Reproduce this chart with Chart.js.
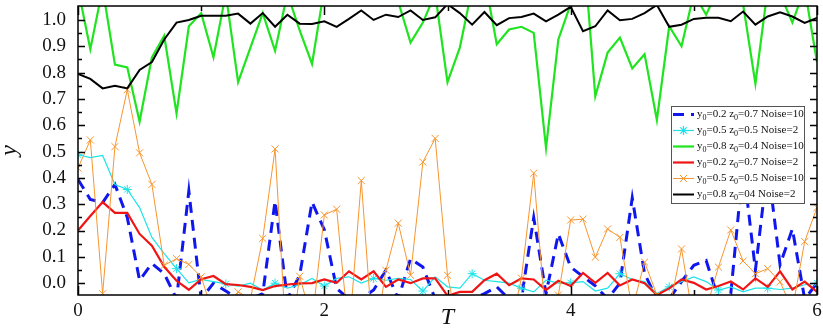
<!DOCTYPE html>
<html lang="en">
<head>
  <meta charset="UTF-8">
  <title>y vs T</title>
  <script src="https://cdn.jsdelivr.net/npm/chart.js"></script>
  <style>
    body { margin: 0; background: #fff; }
    #wrap { width: 823px; height: 330px; }
  </style>
</head>
<body>
<div id="wrap"><canvas id="chart" width="823" height="330"></canvas></div>
<script>
  // time axis
  const tValues = [0.0, 0.1, 0.2, 0.3, 0.4, 0.5, 0.6, 0.7, 0.8, 0.9,
    1.0, 1.1, 1.2, 1.3, 1.4, 1.5, 1.6, 1.7, 1.8, 1.9,
    2.0, 2.1, 2.2, 2.3, 2.4, 2.5, 2.6, 2.7, 2.8, 2.9,
    3.0, 3.1, 3.2, 3.3, 3.4, 3.5, 3.6, 3.7, 3.8, 3.9,
    4.0, 4.1, 4.2, 4.3, 4.4, 4.5, 4.6, 4.7, 4.8, 4.9,
    5.0, 5.1, 5.2, 5.3, 5.4, 5.5, 5.6, 5.7, 5.8, 5.9, 6.0];

  // series
  const blueN10 = [0.394, 0.318, 0.306, 0.375, 0.25, 0.011, 0.075, 0.036, -0.06, 0.35,
    -0.06, 0.0, -0.03, -0.06, -0.06, -0.04, 0.312, -0.06, 0.03, 0.308,
    0.203, -0.02, -0.06, -0.06, -0.026, 0.049, -0.06, 0.093, 0.061, -0.06,
    -0.06, -0.06, -0.06, -0.04, -0.014, -0.06, -0.06, 0.249, -0.04, 0.187,
    0.061, 0.025, -0.01, -0.06, 0.0, 0.324, 0.036, -0.06, -0.06, 0.006,
    0.068, 0.086, -0.06, -0.04, 0.45, 0.05, 0.45, 0.07, 0.206, -0.06, 0.0];
  const cyanN2 = [0.488, 0.477, 0.485, 0.375, 0.356, 0.287, 0.174, 0.112, 0.055, 0.001,
    0.014, 0.006, -0.003, -0.011, 0.0, -0.026, 0.0, -0.019, -0.006, 0.018,
    -0.011, 0.018, 0.024, 0.0, 0.018, 0.011, 0.018, 0.014, -0.03, 0.024,
    -0.014, -0.019, 0.036, 0.011, 0.006, 0.0, -0.019, -0.033, 0.011, 0.0,
    0.001, 0.006, -0.03, -0.019, 0.036, 0.014, 0.006, -0.039, -0.014, 0.006,
    0.024, 0.006, -0.026, -0.014, -0.033, -0.019, -0.019, -0.024, -0.019, -0.006, 0.0];
  const greenN10 = [1.12, 0.889, 1.12, 0.83, 0.82, 0.614, 0.858, 0.94, 0.645, 0.976,
    1.026, 0.858, 1.1, 0.764, 0.895, 1.026, 0.883, 1.1, 0.96, 0.833,
    1.12, 1.1, 1.12, 1.1, 1.12, 1.1, 1.07, 0.914, 0.99, 1.1,
    0.764, 0.895, 1.12, 1.16, 0.908, 0.964, 0.974, 0.951, 0.514, 0.926,
    1.06, 1.3, 0.71, 0.876, 0.933, 0.816, 0.87, 0.62, 0.976, 0.9,
    1.1, 1.02, 1.12, 1.1, 1.06, 0.758, 1.12, 1.1, 0.99, 1.12, 0.84];
  const redN2 = [0.2, 0.255, 0.308, 0.267, 0.267, 0.187, 0.142, 0.062, 0.009, -0.025,
    0.015, 0.027, -0.004, -0.007, -0.014, -0.026, -0.011, -0.005, -0.001, 0.0,
    0.014, 0.001, 0.045, 0.014, 0.045, -0.014, 0.014, 0.0, 0.018, 0.018,
    -0.048, -0.033, -0.033, 0.011, 0.036, -0.008, 0.018, 0.014, -0.026, 0.009,
    -0.011, 0.039, 0.001, 0.039, -0.009, 0.014, 0.0, -0.045, -0.02, 0.014,
    0.001, -0.024, -0.011, 0.006, -0.024, 0.018, -0.014, 0.045, -0.024, 0.006, -0.033];
  const orangeN10 = [0.437, 0.544, -0.04, 0.519, 0.735, 0.495, 0.375, 0.068, 0.093, 0.071,
    0.024, -0.12, -0.15, -0.033, -0.06, 0.17, 0.51, -0.3, 0.026, -0.145,
    0.259, 0.281, -0.2, 0.39, -0.25, 0.049, 0.228, 0.03, 0.46, 0.55,
    0.03, -0.2, -0.1, -0.15, -0.1, -0.2, 0.019, 0.418, -0.15, -0.045,
    0.24, 0.243, 0.099, 0.206, 0.174, -0.1, 0.08, -0.045, -0.1, 0.13,
    -0.15, -0.1, 0.061, 0.202, 0.084, 0.036, 0.055, 0.005, -0.1, 0.158, 0.287];
  const blackN2 = [0.795, 0.776, 0.74, 0.75, 0.74, 0.81, 0.84, 0.926, 0.99, 1.0,
    1.016, 1.016, 1.016, 1.024, 0.986, 1.026, 0.974, 1.02, 0.986, 0.985,
    0.995, 0.974, 1.004, 1.036, 1.0, 1.02, 1.011, 1.036, 1.0, 1.01,
    1.06, 1.026, 0.982, 1.03, 0.98, 1.007, 1.011, 1.024, 0.995, 1.02,
    1.05, 0.957, 0.976, 1.036, 0.999, 1.004, 1.026, 1.057, 0.974, 0.982,
    1.004, 1.008, 1.008, 0.995, 1.032, 0.982, 1.013, 1.029, 1.013, 0.989, 1.008];

  const seriesLabels = [
    'y₀=0.2 z₀=0.7 Noise=10',
    'y₀=0.5 z₀=0.5 Noise=2',
    'y₀=0.8 z₀=0.4 Noise=10',
    'y₀=0.2 z₀=0.7 Noise=2',
    'y₀=0.5 z₀=0.5 Noise=10',
    'y₀=0.8 z₀=04 Noise=2'
  ];

  const xTicks = [0, 2, 4, 6];

  function pts(arr) {
    return arr.map((v, i) => ({ x: tValues[i], y: v }));
  }

  const SERIF = "'Liberation Serif', 'Times New Roman', serif";

  // frame + inward ticks on all four sides
  const framePlugin = {
    id: 'frame',
    afterDatasetsDraw(chart) {
      const { ctx, chartArea: a, scales: { x, y } } = chart;
      ctx.save();
      ctx.strokeStyle = '#000';
      ctx.lineWidth = 1.5;
      ctx.strokeRect(a.left, a.top, a.right - a.left, a.bottom - a.top);
      ctx.beginPath();
      for (let v = x.min; v <= x.max; v += 1) {
        const px = Math.round(x.getPixelForValue(v)) + 0.5;
        const len = xTicks.includes(v) ? 9 : 5;
        ctx.moveTo(px, a.bottom); ctx.lineTo(px, a.bottom - len);
        ctx.moveTo(px, a.top); ctx.lineTo(px, a.top + len);
      }
      for (let k = 0; k <= 20; k++) {
        const py = Math.round(y.getPixelForValue(k * 0.05)) + 0.5;
        const len = k % 2 === 0 ? 7 : 4;
        ctx.moveTo(a.left, py); ctx.lineTo(a.left + len, py);
        ctx.moveTo(a.right, py); ctx.lineTo(a.right - len, py);
      }
      ctx.stroke();
      ctx.restore();
    }
  };

  // boxed legend inside the plot, with subscript zeros
  const legendPlugin = {
    id: 'boxLegend',
    afterDraw(chart) {
      const { ctx, chartArea: a } = chart;
      const boxW = 133, boxH = 97, rowH = 16;
      const bx = a.right - 13 - boxW, by = 106;
      ctx.save();
      ctx.fillStyle = '#fff';
      ctx.fillRect(bx, by, boxW, boxH);
      ctx.strokeStyle = '#555';
      ctx.lineWidth = 1;
      ctx.strokeRect(bx + 0.5, by + 0.5, boxW, boxH);

      chart.data.datasets.forEach((ds, i) => {
        const cy = by + 8.5 + i * rowH;
        const x0 = bx + 2, x1 = bx + 23;
        ctx.strokeStyle = ds.borderColor;
        ctx.lineWidth = ds.borderWidth;
        ctx.setLineDash(ds.borderDash || []);
        ctx.beginPath();
        ctx.moveTo(x0, cy); ctx.lineTo(x1, cy);
        ctx.stroke();
        ctx.setLineDash([]);
        if (ds.legendMarker) {
          Chart.helpers.drawPoint(ctx, {
            pointStyle: ds.pointStyle, radius: ds.legendMarker,
            borderWidth: ds.pointBorderWidth, rotation: 0
          }, (x0 + x1) / 2, cy);
        }
        // text with subscripts
        ctx.fillStyle = '#111';
        ctx.textBaseline = 'middle';
        let tx = bx + 26;
        const parts = ds.label.split('₀');
        parts.forEach((p, j) => {
          ctx.font = '11px ' + SERIF;
          ctx.fillText(p, tx, cy);
          tx += ctx.measureText(p).width;
          if (j < parts.length - 1) {
            ctx.font = '8px ' + SERIF;
            ctx.fillText('0', tx, cy + 3.5);
            tx += ctx.measureText('0').width;
          }
        });
      });
      ctx.restore();
    }
  };

  new Chart(document.getElementById('chart'), {
    type: 'line',
    data: {
      datasets: [
        { label: seriesLabels[0], data: pts(blueN10), borderColor: '#0f17ee', borderWidth: 3,
          borderDash: [11, 7], pointRadius: 0, order: 6 },
        { label: seriesLabels[1], data: pts(cyanN2), borderColor: '#1ce3e8', borderWidth: 1.2,
          pointStyle: 'star', pointBorderColor: '#1ce3e8', pointBorderWidth: 1,
          pointRadius: c => (c.dataIndex % 4 === 0 ? 4.5 : 0), legendMarker: 4.5, order: 5 },
        { label: seriesLabels[2], data: pts(greenN10), borderColor: '#1fe41f', borderWidth: 2.2,
          pointRadius: 0, order: 4 },
        { label: seriesLabels[3], data: pts(redN2), borderColor: '#f01515', borderWidth: 2.2,
          pointRadius: 0, order: 3 },
        { label: seriesLabels[4], data: pts(orangeN10), borderColor: '#f7952f', borderWidth: 1,
          pointStyle: 'crossRot', pointBorderColor: '#f7952f', pointBorderWidth: 1,
          pointRadius: 5, legendMarker: 5, order: 2 },
        { label: seriesLabels[5], data: pts(blackN2), borderColor: '#000000', borderWidth: 2,
          pointRadius: 0, order: 1 }
      ]
    },
    options: {
      responsive: false,
      animation: false,
      events: [],
      clip: 0,
      layout: { padding: { left: 0, right: 6, top: 3, bottom: 0 } },
      plugins: { legend: { display: false }, tooltip: { enabled: false } },
      scales: {
        x: {
          type: 'linear', min: 0, max: 6,
          grid: { display: false, drawTicks: false },
          border: { display: false },
          ticks: {
            stepSize: 1, padding: 5, color: '#111',
            font: { family: SERIF, size: 19 },
            callback: v => (xTicks.includes(v) ? String(v) : '')
          },
          title: { display: true, text: 'T', color: '#111', padding: 0,
            font: { family: SERIF, size: 24, style: 'italic', lineHeight: 1 } },
          afterFit: s => { s.height = 35; s.paddingLeft = 0; s.paddingRight = 0; }
        },
        y: {
          type: 'linear', min: -0.045, max: 1.053,
          grid: { display: false, drawTicks: false },
          border: { display: false },
          ticks: {
            stepSize: 0.1, includeBounds: false, padding: 12, color: '#111',
            font: { family: SERIF, size: 19 },
            callback: v => v.toFixed(1)
          },
          title: { display: true, text: 'y', color: '#111', padding: { top: -2 },
            font: { family: SERIF, size: 24, style: 'italic', lineHeight: 1 } },
          afterFit: s => { s.width = 78; s.paddingTop = 0; s.paddingBottom = 0; }
        }
      }
    },
    plugins: [framePlugin, legendPlugin]
  });
</script>
</body>
</html>
